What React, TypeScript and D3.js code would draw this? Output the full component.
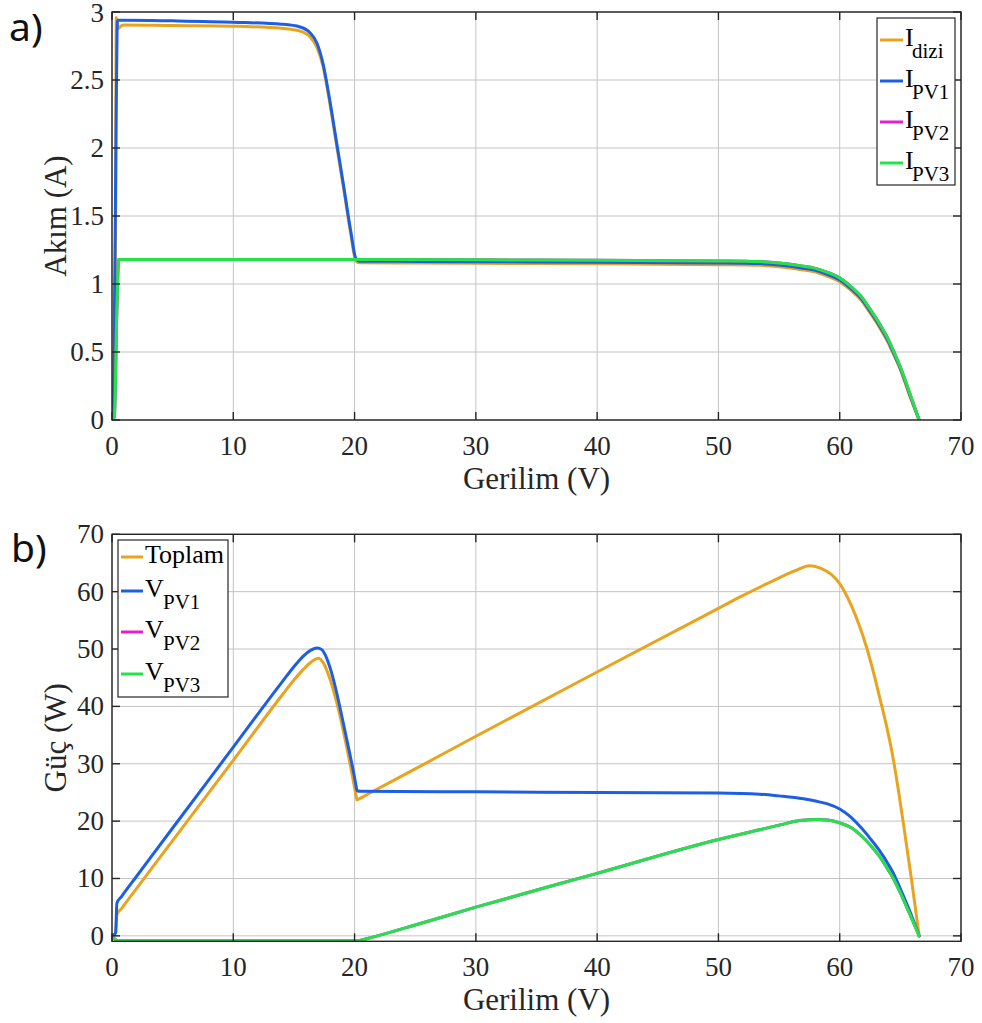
import React from 'react';
import * as d3 from 'd3';

// ---------- tick labels ----------
const xTicks = [0, 10, 20, 30, 40, 50, 60, 70];
const yTicksA = [0, 0.5, 1, 1.5, 2, 2.5, 3];
const yTicksB = [0, 10, 20, 30, 40, 50, 60, 70];

// ---------- panel a) current vs voltage ----------
const vDiziA = [0, 0.2, 0.3, 0.35, 0.5, 0.8, 1, 5, 10, 14, 15.5, 16.3, 16.9, 17.4, 17.9, 18.5, 19.1, 19.7, 20.1, 20.4, 25, 30, 40, 50, 53.4, 55, 56.7, 58, 59, 60, 61, 61.7, 62.5, 63.3, 64, 64.4, 65, 65.8, 66.55];
const iDizi = [0, 0.02, 1.5, 2.96, 2.88, 2.9, 2.905, 2.9, 2.895, 2.88, 2.86, 2.82, 2.74, 2.6, 2.36, 2.03, 1.7, 1.36, 1.17, 1.156, 1.154, 1.152, 1.148, 1.142, 1.137, 1.127, 1.107, 1.087, 1.057, 1.017, 0.947, 0.887, 0.787, 0.677, 0.567, 0.49, 0.37, 0.17, 0];

const vPv1A = [0, 0.15, 0.35, 0.45, 1, 5, 10, 14, 15.5, 16.3, 16.9, 17.4, 17.9, 18.5, 19.1, 19.7, 20.1, 20.4, 25, 30, 40, 50, 53.4, 55, 56.7, 58, 59, 60, 61, 61.7, 62.5, 63.3, 64, 64.4, 65, 65.8, 66.55];
const iPv1 = [0, 0.3, 2.3, 2.94, 2.94, 2.935, 2.925, 2.91, 2.89, 2.85, 2.77, 2.62, 2.38, 2.05, 1.72, 1.38, 1.19, 1.168, 1.166, 1.164, 1.16, 1.155, 1.15, 1.14, 1.12, 1.1, 1.07, 1.03, 0.96, 0.9, 0.8, 0.69, 0.58, 0.5, 0.38, 0.18, 0];

const vPv23A = [0, 0.2, 0.4, 0.55, 1, 10, 20, 30, 40, 50, 53.4, 55, 56.7, 58, 59, 60, 61, 61.7, 62.5, 63.3, 64, 64.4, 65, 65.8, 66.55];
const iPv2 = [0, 0.03, 0.8, 1.18, 1.18, 1.18, 1.18, 1.178, 1.175, 1.17, 1.165, 1.155, 1.135, 1.115, 1.085, 1.045, 0.975, 0.915, 0.815, 0.705, 0.595, 0.515, 0.39, 0.19, 0];
const iPv3 = iPv2;

// ---------- panel b) power vs voltage ----------
const vToplamB = [0, 0.3, 0.4, 0.8, 2, 5, 10, 14, 15, 15.8, 16.4, 17, 17.5, 17.9, 18.4, 18.9, 19.4, 19.8, 20.15, 20.2, 20.3, 21, 25, 30, 40, 50, 52, 54, 55.5, 56.5, 57.5, 58.4, 59.3, 60, 60.4, 61, 61.6, 62.2, 62.8, 63.3, 63.9, 64.4, 65.2, 65.9, 66.55];
const pToplam = [0, 0.5, 3.7, 4.8, 8.2, 16.6, 30.6, 41.9, 44.6, 46.5, 47.7, 48.4, 47.3, 45.2, 41.7, 37.4, 32.4, 28.1, 24.2, 23.7, 23.8, 24.6, 29.1, 34.8, 46, 57.1, 59.3, 61.4, 62.9, 63.8, 64.5, 64.1, 63.0, 61.4, 60, 57.4, 54.2, 50.4, 45.8, 41.5, 36.2, 31, 20.3, 10.1, 0];

const vPv1B = [0, 0.3, 0.4, 0.8, 2, 5, 10, 14, 15, 15.8, 16.4, 16.9, 17.3, 17.6, 18, 18.5, 19, 19.6, 20, 20.15, 20.2, 20.5, 30, 40, 50, 53.4, 55, 57, 58, 59, 60, 60.8, 61.7, 62.5, 63.3, 64, 64.4, 65, 65.8, 66.55];
const pPv1 = [0, 0.5, 5.7, 6.9, 10.3, 18.8, 32.9, 44.2, 46.9, 48.8, 49.8, 50.2, 49.9, 48.9, 46.6, 42.6, 37.8, 31.8, 27.6, 25.8, 25.3, 25.2, 25.1, 25, 24.9, 24.7, 24.4, 23.9, 23.5, 23, 22.1, 20.9, 19, 17, 14.8, 12.5, 11, 8.2, 4.2, 0];

const vPv23B = [0, 0.5, 20.3, 21, 25, 30, 40, 50, 53.4, 55, 56.7, 58.2, 59, 60, 61, 61.7, 62.5, 63.3, 64, 64.4, 65, 65.8, 66.55];
const pPv2 = [0, -0.85, -0.85, -0.5, 1.9, 5, 10.9, 16.8, 18.5, 19.3, 20.1, 20.3, 20.2, 19.7, 18.8, 17.6, 15.9, 13.8, 11.5, 10.1, 7.5, 3.7, 0];
const pPv3 = pPv2;

// ---------- styling ----------
const ORANGE = '#E9A31F';
const BLUE = '#1D5FE3';
const MAGENTA = '#E61ECF';
const GREEN = '#22E34A';
const AX = '#262626';
const GRID = '#c4c4c4';
const SERIF = '"Liberation Serif", "Times New Roman", serif';

type Series = { xs: number[]; ys: number[]; color: string };
type LegendEntry = { main: string; sub?: string; color: string };

interface PanelProps {
  id: string;
  top: number;
  bottom: number;
  yDomain: [number, number];
  yTicks: number[];
  yLabel: string;
  series: Series[];
  legend: LegendEntry[];
  legendBox: { x: number; y: number; w: number; h: number };
  legendRows: number[];
  legendLineX: [number, number];
  legendTextX: number;
  legendSubX: number;
}

const LEFT = 112;
const RIGHT = 961;

function Panel(p: PanelProps) {
  const x = d3.scaleLinear().domain([0, 70]).range([LEFT, RIGHT]);
  const y = d3.scaleLinear().domain(p.yDomain).range([p.bottom, p.top]);
  const line = d3
    .line<[number, number]>()
    .x((d) => x(d[0]))
    .y((d) => y(d[1]))
    .curve(d3.curveMonotoneX);
  const tickLen = 8;
  return (
    <g>
      <defs>
        <clipPath id={`clip-${p.id}`}>
          <rect x={LEFT} y={p.top} width={RIGHT - LEFT} height={p.bottom - p.top} />
        </clipPath>
      </defs>
      <rect x={LEFT} y={p.top} width={RIGHT - LEFT} height={p.bottom - p.top} fill="#fff" />
      {xTicks.map((t) => (
        <line key={'gx' + t} x1={x(t)} x2={x(t)} y1={p.top} y2={p.bottom} stroke={GRID} strokeWidth={1} />
      ))}
      {p.yTicks.map((t) => (
        <line key={'gy' + t} x1={LEFT} x2={RIGHT} y1={y(t)} y2={y(t)} stroke={GRID} strokeWidth={1} />
      ))}
      <g clipPath={`url(#clip-${p.id})`}>
        {p.series.map((s, i) => (
          <path
            key={i}
            d={line(s.xs.map((v, k) => [v, s.ys[k]] as [number, number])) || ''}
            fill="none"
            stroke={s.color}
            strokeWidth={3}
            strokeLinejoin="round"
            strokeLinecap="round"
          />
        ))}
      </g>
      <rect x={LEFT} y={p.top} width={RIGHT - LEFT} height={p.bottom - p.top} fill="none" stroke={AX} strokeWidth={1.4} />
      {xTicks.map((t) => (
        <g key={'tx' + t}>
          <line x1={x(t)} x2={x(t)} y1={p.bottom} y2={p.bottom - tickLen} stroke={AX} strokeWidth={1.4} />
          <line x1={x(t)} x2={x(t)} y1={p.top} y2={p.top + tickLen} stroke={AX} strokeWidth={1.4} />
          <text x={x(t)} y={p.bottom + 35} textAnchor="middle" fontFamily={SERIF} fontSize={27} fill={AX}>
            {t}
          </text>
        </g>
      ))}
      {p.yTicks.map((t) => (
        <g key={'ty' + t}>
          <line x1={LEFT} x2={LEFT + tickLen} y1={y(t)} y2={y(t)} stroke={AX} strokeWidth={1.4} />
          <line x1={RIGHT} x2={RIGHT - tickLen} y1={y(t)} y2={y(t)} stroke={AX} strokeWidth={1.4} />
          <text x={LEFT - 8} y={Math.max(y(t) + 9, 22)} textAnchor="end" fontFamily={SERIF} fontSize={27} fill={AX}>
            {t}
          </text>
        </g>
      ))}
      <text x={(LEFT + RIGHT) / 2} y={p.bottom + 69} textAnchor="middle" fontFamily={SERIF} fontSize={31} fill={AX}>
        Gerilim (V)
      </text>
      <text
        transform={`translate(66,${(p.top + p.bottom) / 2}) rotate(-90)`}
        textAnchor="middle"
        fontFamily={SERIF}
        fontSize={31}
        fill={AX}
      >
        {p.yLabel}
      </text>
      <rect
        x={p.legendBox.x}
        y={p.legendBox.y}
        width={p.legendBox.w}
        height={p.legendBox.h}
        fill="#fff"
        stroke={AX}
        strokeWidth={1.2}
      />
      {p.legend.map((e, i) => {
        const ly = p.legendRows[i];
        return (
          <g key={'lg' + i}>
            <line x1={p.legendLineX[0]} x2={p.legendLineX[1]} y1={ly} y2={ly} stroke={e.color} strokeWidth={3} />
            <text x={p.legendTextX} y={ly + 6} fontFamily={SERIF} fontSize={26} fill="#000">
              {e.main}
            </text>
            {e.sub && (
              <text x={p.legendSubX} y={ly + 18} fontFamily={SERIF} fontSize={21} fill="#000">
                {e.sub}
              </text>
            )}
          </g>
        );
      })}
    </g>
  );
}

export default function App() {
  return (
    <svg
      width={982}
      height={1023}
      viewBox="0 0 982 1023"
      style={{ position: 'absolute', left: 0, top: 0, background: '#fff' }}
    >
      <rect x={0} y={0} width={982} height={1023} fill="#fff" />
      <text x={9} y={41} fontFamily='"Noto Sans", sans-serif' fontSize={39} fill="#111">
        a)
      </text>
      <text x={11} y={562} fontFamily='"Noto Sans", sans-serif' fontSize={39} fill="#111">
        b)
      </text>
      <Panel
        id="a"
        top={12}
        bottom={420}
        yDomain={[0, 3]}
        yTicks={yTicksA}
        yLabel="Akım (A)"
        series={[
          { xs: vDiziA, ys: iDizi, color: ORANGE },
          { xs: vPv1A, ys: iPv1, color: BLUE },
          { xs: vPv23A, ys: iPv2, color: MAGENTA },
          { xs: vPv23A, ys: iPv3, color: GREEN },
        ]}
        legend={[
          { main: 'I', sub: 'dizi', color: ORANGE },
          { main: 'I', sub: 'PV1', color: BLUE },
          { main: 'I', sub: 'PV2', color: MAGENTA },
          { main: 'I', sub: 'PV3', color: GREEN },
        ]}
        legendBox={{ x: 877, y: 18, w: 78, h: 167 }}
        legendRows={[40, 81, 122, 163]}
        legendLineX={[880, 903]}
        legendTextX={905}
        legendSubX={912}
      />
      <Panel
        id="b"
        top={534.3}
        bottom={941.3}
        yDomain={[-0.95, 70]}
        yTicks={yTicksB}
        yLabel="Güç (W)"
        series={[
          { xs: vToplamB, ys: pToplam, color: ORANGE },
          { xs: vPv1B, ys: pPv1, color: BLUE },
          { xs: vPv23B, ys: pPv2, color: MAGENTA },
          { xs: vPv23B, ys: pPv3, color: GREEN },
        ]}
        legend={[
          { main: 'Toplam', color: ORANGE },
          { main: 'V', sub: 'PV1', color: BLUE },
          { main: 'V', sub: 'PV2', color: MAGENTA },
          { main: 'V', sub: 'PV3', color: GREEN },
        ]}
        legendBox={{ x: 118, y: 540, w: 110, h: 157 }}
        legendRows={[557, 591, 632, 674]}
        legendLineX={[121, 143]}
        legendTextX={145}
        legendSubX={163}
      />
    </svg>
  );
}
